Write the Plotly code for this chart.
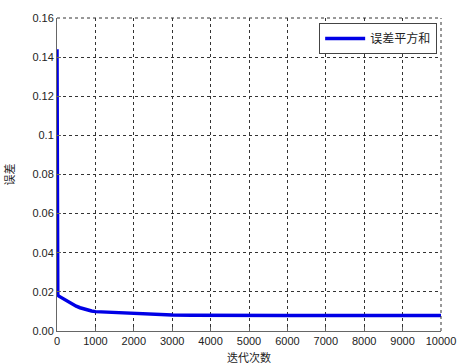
import plotly.graph_objects as go

iterations = [0, 2, 5, 10, 20, 50, 100, 200, 300, 400, 500, 600, 700, 800, 900, 1000,
              1200, 1500, 2000, 2500, 3000, 3500, 4000, 5000, 6000, 7000, 8000, 9000, 10000]
sse = [0.144, 0.060, 0.025, 0.019, 0.0183, 0.0178, 0.0172, 0.0160, 0.0148, 0.0137, 0.0127,
       0.0119, 0.0112, 0.0106, 0.0102, 0.0099, 0.0097, 0.0095, 0.0092, 0.0088, 0.0082,
       0.0080, 0.0079, 0.0079, 0.0079, 0.0079, 0.0079, 0.0079, 0.0079]

x_ticks = [0, 1000, 2000, 3000, 4000, 5000, 6000, 7000, 8000, 9000, 10000]
x_labels = ["0", "1000", "2000", "3000", "4000", "5000", "6000", "7000", "8000", "9000", "10000"]
y_ticks = [0.00, 0.02, 0.04, 0.06, 0.08, 0.10, 0.12, 0.14, 0.16]
y_labels = ["0.00", "0.02", "0.04", "0.06", "0.08", "0.1", "0.12", "0.14", "0.16"]

fig = go.Figure()
fig.add_trace(go.Scatter(x=iterations, y=sse, mode="lines", name="误差平方和",
                         line=dict(color="#0000e6", width=3.5)))

axis_common = dict(showgrid=True, gridcolor="#333333", griddash="dot", gridwidth=1,
                   showline=True, linecolor="#666666", linewidth=1, mirror=False,
                   ticks="inside", ticklen=4, tickcolor="#666666", zeroline=False,
                   automargin=False,
                   tickfont=dict(family="Liberation Sans, Arial", size=11, color="#222"))

fig.update_layout(
    width=458, height=364,
    margin=dict(l=57, r=17, t=18, b=33, autoexpand=False),
    plot_bgcolor="white", paper_bgcolor="white",
    showlegend=True,
    legend=dict(x=0.99, y=0.984, xanchor="right", yanchor="top",
                bgcolor="white", bordercolor="#444444", borderwidth=1,
                font=dict(family="Noto Sans CJK SC", size=12, color="#222"),
                itemwidth=40, tracegroupgap=0),
    xaxis=dict(range=[0, 10000], tickvals=x_ticks, ticktext=x_labels, **axis_common),
    yaxis=dict(range=[0, 0.16], tickvals=y_ticks, ticktext=y_labels, **axis_common),
)
fig.add_annotation(text="迭代次数", xref="paper", yref="paper", x=0.5, y=0, yshift=-26,
                   xanchor="center", yanchor="middle", showarrow=False,
                   font=dict(family="Noto Sans CJK SC", size=11, color="#222"))
fig.add_annotation(text="误差", xref="paper", yref="paper", x=0, y=0.5, xshift=-49,
                   xanchor="center", yanchor="middle", textangle=-90, showarrow=False,
                   font=dict(family="Noto Sans CJK SC", size=11, color="#222"))
# dotted top and right borders
fig.add_shape(type="line", xref="paper", yref="paper", x0=0, x1=1, y0=1, y1=1,
              line=dict(color="#333333", width=1, dash="dot"))
fig.add_shape(type="line", xref="paper", yref="paper", x0=1, x1=1, y0=0, y1=1,
              line=dict(color="#333333", width=1, dash="dot"))

fig.write_html("out.html", config={"displayModeBar": False},
               post_script="document.body.style.margin='0';document.body.style.overflow='hidden';")
